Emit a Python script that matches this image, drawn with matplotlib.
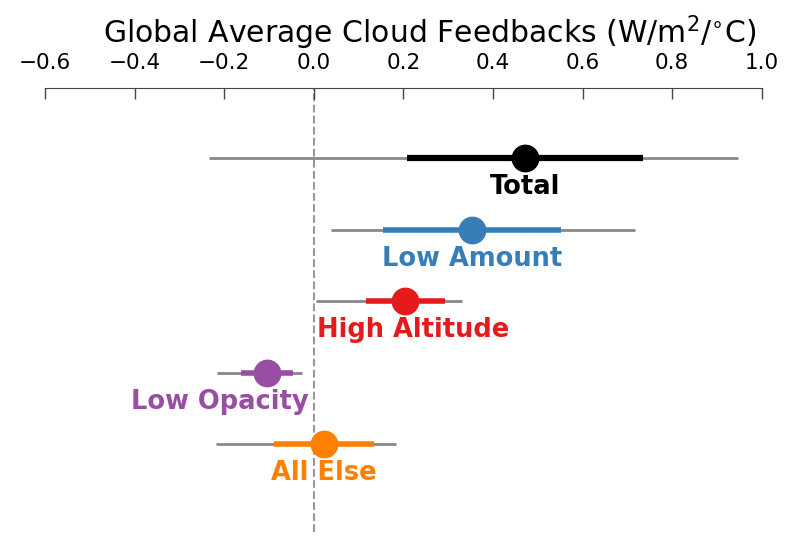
import numpy as np
import matplotlib
matplotlib.use("Agg")
from matplotlib import pyplot as plt

# --------------------- data ---------------------
names = ["Total", "Low Amount", "High Altitude", "Low Opacity", "All Else"]
colors = ["black", "#377eb8", "#e41a1c", "#984ea3", "#ff7f00"]
central = [0.471, 0.353, 0.203, -0.105, 0.022]
# likely range (thick) and very likely range (thin grey)
likely_lo = [0.208, 0.154, 0.116, -0.163, -0.089]
likely_hi = [0.735, 0.551, 0.293, -0.047, 0.134]
vlikely_lo = [-0.234, 0.038, 0.004, -0.216, -0.219]
vlikely_hi = [0.946, 0.717, 0.330, -0.027, 0.183]
xticks = [-0.6, -0.4, -0.2, 0.0, 0.2, 0.4, 0.6, 0.8, 1.0]

fig = plt.figure(figsize=(8, 5.52), dpi=100)
ax = fig.add_axes([0.05625, 0.0362, 0.896, 0.8044])

ypos = np.arange(len(names))
ax.axvline(0, color="#999999", ls="--", lw=1.5, zorder=0)

for i, name in enumerate(names):
    y = ypos[i]
    ax.plot([vlikely_lo[i], vlikely_hi[i]], [y, y], color="#888888", lw=2, solid_capstyle="butt", zorder=1)
    lw = 4.5 if i == 0 else 4
    ax.plot([likely_lo[i], likely_hi[i]], [y, y], color=colors[i], lw=lw, solid_capstyle="butt", zorder=2)
    ax.plot(central[i], y, "o", color=colors[i], ms=19, zorder=3)
    # label placement: centred under dot, except where it would hit the zero line
    if name == "High Altitude":
        tx, ha = 0.007, "left"
    elif name == "Low Opacity":
        tx, ha = -0.011, "right"
    else:
        tx, ha = central[i], "center"
    ax.annotate(name, (tx, y), xytext=(0, -26), textcoords="offset points",
                ha=ha, va="baseline", fontsize=18.5, fontweight="bold", color=colors[i])

ax.set_xlim(-0.6, 1.0)
ax.set_ylim(5.23, -0.98)
ax.set_xticks(xticks)
ax.set_xticklabels([f"{t:.1f}".replace("-", "\u2212") for t in xticks])
ax.xaxis.tick_top()
ax.tick_params(axis="x", direction="in", length=8, width=1, color="#444444",
               labelsize=15.5, pad=11)
ax.set_yticks([])
for s in ["bottom", "left", "right"]:
    ax.spines[s].set_visible(False)
ax.spines["top"].set_color("#444444")

# title sits above the tick labels, a little right of centre as in the original
fig.text(0.537, 1 - 43 / 552, r"Global Average Cloud Feedbacks (W/m$^2$/$^{\circ}$C)",
         fontsize=21.5, ha="center", va="baseline")

fig.savefig("out.png", dpi=100)
